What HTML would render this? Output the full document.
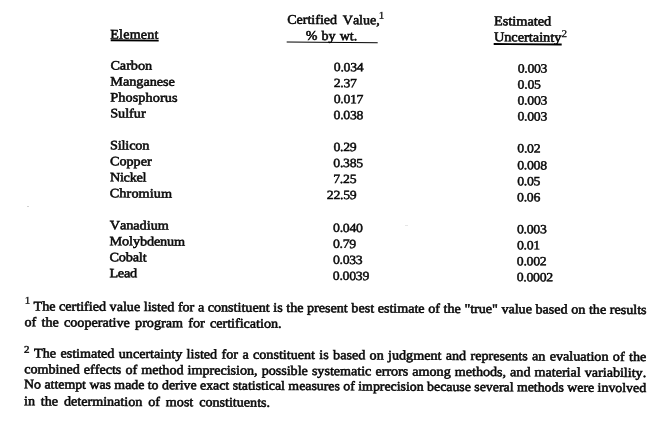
<!DOCTYPE html>
<html><head><meta charset="utf-8"><title>Certified values</title>
<style>
html,body{margin:0;padding:0;background:#fff;}
body{width:669px;height:421px;position:relative;overflow:hidden;}
#pg,#fnw{position:absolute;left:0;top:0;width:669px;height:421px;transform-origin:0 0;transform:rotate(0.42deg) scaleY(0.94);font-family:"Liberation Serif",serif;color:#0a0a0a;font-kerning:none;font-size:14.2px;-webkit-text-stroke:0.6px #0a0a0a;}
#fnw{transform:rotate(0.34deg) scaleY(0.94);}
.t{position:absolute;white-space:nowrap;line-height:16px;height:16px;}
.n{font-size:13.7px;letter-spacing:-0.25px;-webkit-text-stroke:0.52px #0a0a0a;}
.ul{position:absolute;height:1.596px;background:#000;}
.s{-webkit-text-stroke:0.3px #0a0a0a;font-size:11px;position:absolute;line-height:11px;white-space:nowrap;}
.fn{position:absolute;white-space:nowrap;line-height:16px;height:16px;font-size:14.1px;}
.j{text-align:justify;text-align-last:justify;word-spacing:-2px;}
.e{word-spacing:1.8px;font-size:14.1px;}
</style></head><body><div id="pg">

<div class="t" style="left:287.40px;top:10.89px;word-spacing:2.3px;font-size:14.0px;">Certified Value,</div>
<div class="s" style="left:379.00px;top:7.81px">1</div>
<div class="t" style="left:306.10px;top:27.59px;word-spacing:0.6px;font-size:14.0px;">% by wt.</div>
<div class="ul" style="left:287.20px;width:91.00px;top:41.65px"></div>
<div class="t" style="left:110.60px;top:28.02px;font-size:14.0px;letter-spacing:0.25px;">Element</div>
<div class="ul" style="left:110.60px;width:48.40px;top:41.44px"></div>
<div class="t" style="left:494.20px;top:10.26px;font-size:14.3px;">Estimated</div>
<div class="t" style="left:494.20px;top:27.07px;font-size:14.3px;">Uncertainty</div>
<div class="ul" style="left:494.20px;width:67.40px;top:42.07px"></div>
<div class="s" style="left:561.80px;top:26.22px">2</div>
<div class="t" style="left:110.90px;top:59.76px;transform:scaleY(0.96);transform-origin:0 12.79px;">Carbon</div>
<div class="t n" style="left:334.30px;top:60.78px;transform:scaleY(0.975);transform-origin:0 12.62px;">0.034</div>
<div class="t n" style="left:518.20px;top:61.10px;transform:scaleY(0.975);transform-origin:0 12.62px;">0.003</div>
<div class="t" style="left:110.95px;top:76.78px;transform:scaleY(0.96);transform-origin:0 12.79px;">Manganese</div>
<div class="t n" style="left:334.35px;top:77.87px;transform:scaleY(0.975);transform-origin:0 12.62px;">2.37</div>
<div class="t n" style="left:518.25px;top:78.17px;transform:scaleY(0.975);transform-origin:0 12.62px;">0.05</div>
<div class="t" style="left:110.99px;top:93.80px;letter-spacing:0.12px;transform:scaleY(0.96);transform-origin:0 12.79px;">Phosphorus</div>
<div class="t n" style="left:334.39px;top:94.95px;transform:scaleY(0.975);transform-origin:0 12.62px;">0.017</div>
<div class="t n" style="left:518.29px;top:95.25px;transform:scaleY(0.975);transform-origin:0 12.62px;">0.003</div>
<div class="t" style="left:111.04px;top:110.82px;transform:scaleY(0.96);transform-origin:0 12.79px;">Sulfur</div>
<div class="t n" style="left:334.44px;top:112.04px;transform:scaleY(0.975);transform-origin:0 12.62px;">0.038</div>
<div class="t n" style="left:518.34px;top:112.32px;transform:scaleY(0.975);transform-origin:0 12.62px;">0.003</div>
<div class="t" style="left:111.12px;top:144.87px;letter-spacing:-0.15px;transform:scaleY(0.96);transform-origin:0 12.79px;">Silicon</div>
<div class="t n" style="left:334.53px;top:146.21px;transform:scaleY(0.975);transform-origin:0 12.62px;">0.29</div>
<div class="t n" style="left:518.43px;top:146.47px;transform:scaleY(0.975);transform-origin:0 12.62px;">0.02</div>
<div class="t" style="left:111.17px;top:161.89px;transform:scaleY(0.96);transform-origin:0 12.79px;">Copper</div>
<div class="t n" style="left:334.57px;top:163.29px;transform:scaleY(0.975);transform-origin:0 12.62px;">0.385</div>
<div class="t n" style="left:518.47px;top:163.55px;transform:scaleY(0.975);transform-origin:0 12.62px;">0.008</div>
<div class="t" style="left:111.22px;top:178.91px;letter-spacing:-0.25px;transform:scaleY(0.96);transform-origin:0 12.79px;">Nickel</div>
<div class="t n" style="left:334.62px;top:180.38px;transform:scaleY(0.975);transform-origin:0 12.62px;">7.25</div>
<div class="t n" style="left:518.52px;top:180.62px;transform:scaleY(0.975);transform-origin:0 12.62px;">0.05</div>
<div class="t" style="left:111.26px;top:195.93px;letter-spacing:0.1px;transform:scaleY(0.96);transform-origin:0 12.79px;">Chromium</div>
<div class="t n" style="left:328.26px;top:197.46px;transform:scaleY(0.975);transform-origin:0 12.62px;">22.59</div>
<div class="t n" style="left:518.56px;top:197.70px;transform:scaleY(0.975);transform-origin:0 12.62px;">0.06</div>
<div class="t" style="left:111.35px;top:229.97px;transform:scaleY(0.96);transform-origin:0 12.79px;">Vanadium</div>
<div class="t n" style="left:334.75px;top:231.63px;transform:scaleY(0.975);transform-origin:0 12.62px;">0.040</div>
<div class="t n" style="left:518.65px;top:231.84px;transform:scaleY(0.975);transform-origin:0 12.62px;">0.003</div>
<div class="t" style="left:111.40px;top:246.99px;letter-spacing:-0.1px;transform:scaleY(0.96);transform-origin:0 12.79px;">Molybdenum</div>
<div class="t n" style="left:334.80px;top:248.72px;transform:scaleY(0.975);transform-origin:0 12.62px;">0.79</div>
<div class="t n" style="left:518.70px;top:248.92px;transform:scaleY(0.975);transform-origin:0 12.62px;">0.01</div>
<div class="t" style="left:111.44px;top:264.02px;letter-spacing:-0.15px;transform:scaleY(0.96);transform-origin:0 12.79px;">Cobalt</div>
<div class="t n" style="left:334.84px;top:265.80px;transform:scaleY(0.975);transform-origin:0 12.62px;">0.033</div>
<div class="t n" style="left:518.74px;top:265.99px;transform:scaleY(0.975);transform-origin:0 12.62px;">0.002</div>
<div class="t" style="left:111.48px;top:281.04px;letter-spacing:-0.25px;transform:scaleY(0.96);transform-origin:0 12.79px;">Lead</div>
<div class="t n" style="left:334.88px;top:282.89px;transform:scaleY(0.975);transform-origin:0 12.62px;">0.0039</div>
<div class="t n" style="left:518.79px;top:283.07px;transform:scaleY(0.975);transform-origin:0 12.62px;">0.0002</div>
</div><div id="fnw">
<div class="s" style="left:26.60px;top:313.77px">1</div>
<div class="fn j" style="left:35.40px;width:613.00px;top:316.60px;font-size:14.1px">The certified value listed for a constituent is the present best estimate of the "true" value based on the results</div>
<div class="fn e" style="left:26.40px;top:333.53px;word-spacing:1.8px">of the cooperative program for certification.</div>
<div class="s" style="left:26.00px;top:365.50px"><span style="-webkit-text-stroke:0.5px #0a0a0a">2</span></div>
<div class="fn j" style="left:36.20px;width:612.20px;top:367.38px;font-size:14.1px">The estimated uncertainty listed for a constituent is based on judgment and represents an evaluation of the</div>
<div class="fn j" style="left:26.40px;width:622.00px;top:384.31px;font-size:14.1px">combined effects of method imprecision, possible systematic errors among methods, and material variability.</div>
<div class="fn j" style="left:26.40px;width:622.00px;top:401.31px;font-size:13.85px">No attempt was made to derive exact statistical measures of imprecision because several methods were involved</div>
<div class="fn e" style="left:26.40px;top:418.16px;word-spacing:2.4px">in the determination of most constituents.</div>
</div><div style="position:absolute;left:27px;top:206px;width:2px;height:1px;background:#d2d2d2"></div><div style="position:absolute;left:405px;top:225px;width:3px;height:1px;background:#e6e6e6"></div></body></html>
